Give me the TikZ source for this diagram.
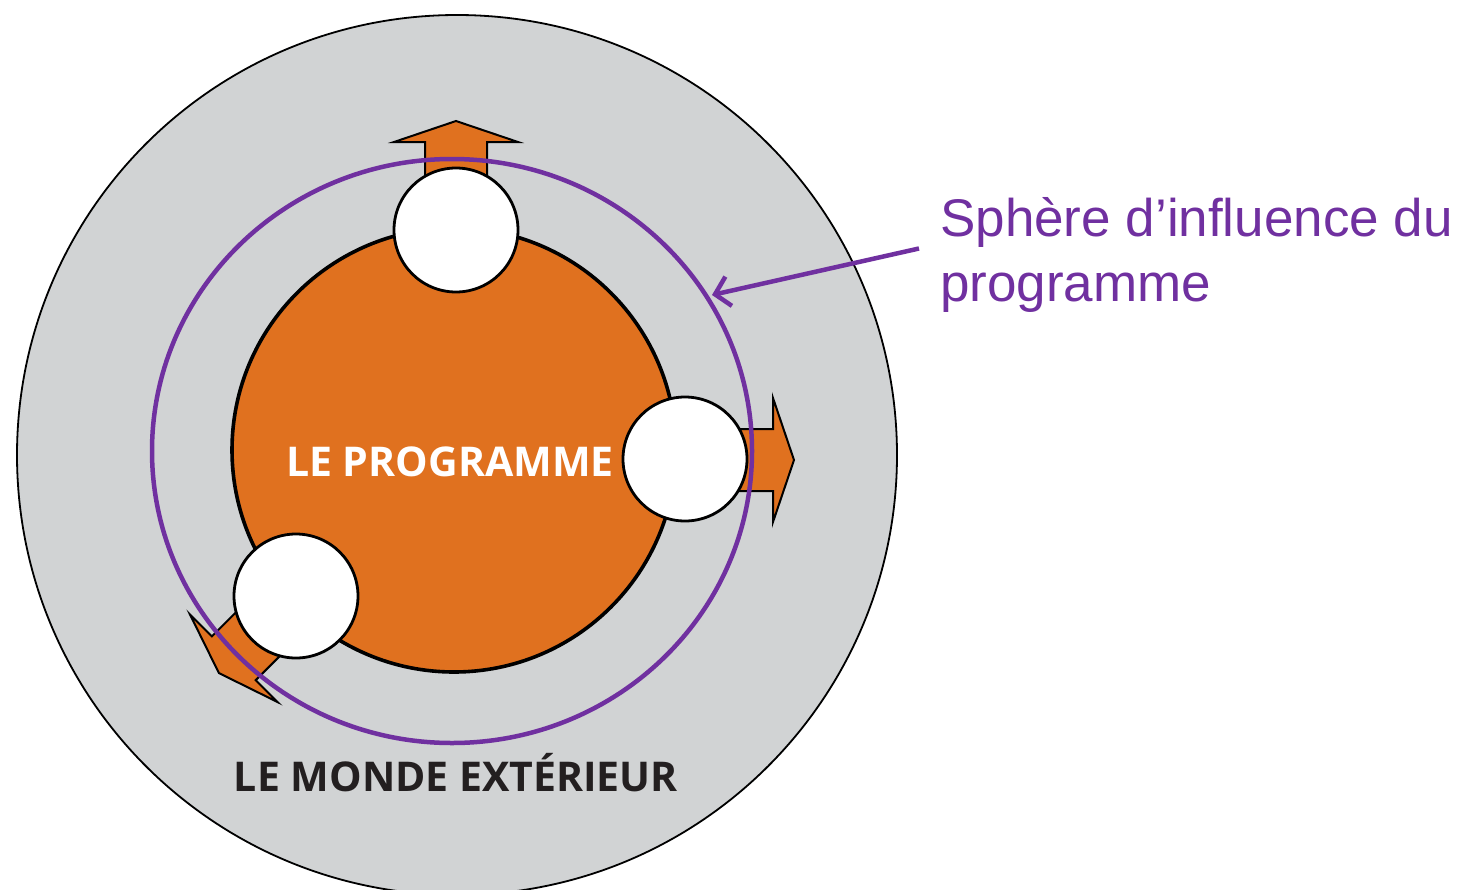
\documentclass[tikz,border=0pt]{standalone}
\usepackage{fontspec}
\setmainfont{Liberation Sans}
\newfontfamily\boldsans{Open Sans}
\usetikzlibrary{arrows.meta,shapes.geometric}
\definecolor{ringgrey}{HTML}{D1D3D4}
\definecolor{progorange}{HTML}{E0711F}
\definecolor{spherepurple}{HTML}{7030A0}
\definecolor{darktext}{HTML}{231F20}
\tikzset{
  outerring/.style={fill=ringgrey, draw=black, line width=1.8},
  progdisc/.style={circle, fill=progorange, draw=black, line width=3.6, minimum size=444, inner sep=0},
  whitedisc/.style={circle, fill=white, draw=black, line width=2.8, minimum size=124, inner sep=0},
  outarrowshape/.style={fill=progorange, draw=black, line width=2, line join=miter},
  sphere/.style={ellipse, draw=spherepurple, line width=4.5, minimum width=600, minimum height=584, inner sep=0},
  bigtitle/.style={font=\boldsans\bfseries\fontsize{41}{41}\selectfont, inner sep=0},
  labeltext/.style={font=\fontsize{53}{65}\selectfont, text=spherepurple, align=left, inner sep=0},
  pointer/.style={draw=spherepurple, line width=4.5, -{Straight Barb[length=14, width=30, line width=4.5]}}
}
\begin{document}
\begin{tikzpicture}[x=1pt,y=-1pt]
\useasboundingbox (0,0) rectangle (1477,889);
\clip (0,0) rectangle (1477,889);
\fill[white] (0,0) rectangle (1477,889);
% outer world
\draw[outerring] (457,455) circle[radius=440pt];
% arrows
\begin{scope}[shift={(456,230)}, rotate=90]
  \draw[outarrowshape] (0,-31) -- (88,-31) -- (88,-62) -- (109,0) -- (88,62) -- (88,31) -- (0,31) -- cycle;
\end{scope}
\begin{scope}[shift={(685,460)}, rotate=0]
  \draw[outarrowshape] (0,-31) -- (88,-31) -- (88,-62) -- (109,0) -- (88,62) -- (88,31) -- (0,31) -- cycle;
\end{scope}
\begin{scope}[shift={(296,596)}, rotate=225]
  \draw[outarrowshape] (0,-31) -- (88,-31) -- (88,-62) -- (109,0) -- (88,62) -- (88,31) -- (0,31) -- cycle;
\end{scope}
% programme disc
\node[progdisc] (prog) at (454,450) {};
% white discs
\node[whitedisc] (ctop) at (456,230) {};
\node[whitedisc] (cright) at (685,459) {};
\node[whitedisc] (cleft) at (296,596) {};
% sphere of influence
\node[sphere] (sphere) at (452,451) {};
% texts
\node[bigtitle, text=white] (progtext) at (450,462) {LE PROGRAMME};
\node[bigtitle, text=darktext] (monde) at (456,773) {LE MONDE EXTÉRIEUR};
\node[labeltext, anchor=base west] (label) at (940,301) {Sphère d’influence du\\programme};
\coordinate (tip) at (712,295);
\draw[pointer] ([xshift=-21pt,yshift=6pt]label.west) -- (tip);
\end{tikzpicture}
\end{document}
